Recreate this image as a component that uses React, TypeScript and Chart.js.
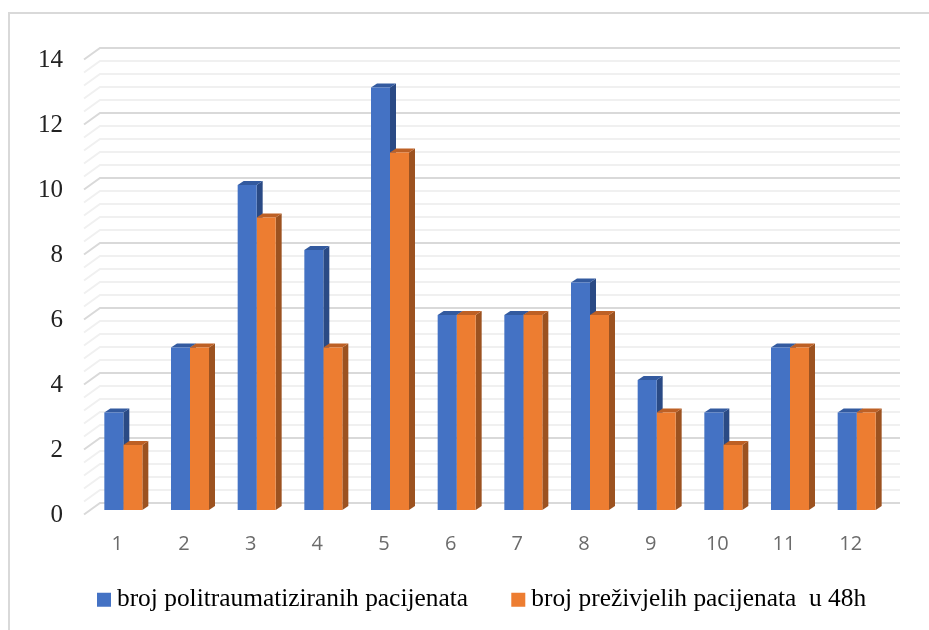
import React, { useEffect, useRef } from "react";
import { Chart, registerables } from "chart.js";

Chart.register(...registerables);

const categories = ["1", "2", "3", "4", "5", "6", "7", "8", "9", "10", "11", "12"];
const seriesA = [3, 5, 10, 8, 13, 6, 6, 7, 4, 3, 5, 3];
const seriesB = [2, 5, 9, 5, 11, 6, 6, 6, 3, 2, 5, 3];
const seriesNames = ["broj politraumatiziranih pacijenata", "broj preživjelih pacijenata  u 48h"];
const colors = ["#4472c4", "#ed7d31"];
const sideColors = ["#2a4a85", "#9c5220"];
const topColors = ["#335a9f", "#bd6025"];
const gridValues = [0, 0.4, 0.8, 1.2, 1.6, 2, 2.4, 2.8, 3.2, 3.6, 4, 4.4, 4.8, 5.2, 5.6, 6, 6.4, 6.8, 7.2, 7.6, 8, 8.4, 8.8, 9.2, 9.6, 10, 10.4, 10.8, 11.2, 11.6, 12, 12.4, 12.8, 13.2, 13.6, 14];

const depth3d = {
  id: "depth3d",
  beforeLayout(chart: any) {
    const lg = chart.legend;
    if (!lg.__wrapped) {
      const fit = lg.fit;
      lg.fit = function () {
        fit.call(this);
        this.height = 60;
      };
      lg.__wrapped = true;
    }
  },
  afterLayout(chart: any) {
    const lg = chart.legend;
    const pad = lg.options.labels.padding;
    lg.left = 103.75 - pad;
    lg.right = 929;
    lg.width = lg.right - lg.left;
    lg.top = 537;
    lg.height = 93;
    lg.bottom = 630;
  },
  beforeDatasetsDraw(chart: any) {
    const { ctx, scales } = chart;
    const y = scales.y;
    ctx.save();
    ctx.lineCap = "butt";
    gridValues.forEach((v) => {
      const major = Math.abs(v / 2 - Math.round(v / 2)) < 1e-6;
      const py = y.getPixelForValue(v);
      ctx.strokeStyle = major ? "#d9d9d9" : "#f0f0f0";
      ctx.lineWidth = 2;
      ctx.beginPath();
      ctx.moveTo(84, py + 4.5);
      ctx.lineTo(100, py - 7);
      ctx.lineTo(900, py - 7);
      ctx.stroke();
    });
    const dx = 6;
    const dy = 4;
    [0, 1].forEach((di) => {
      chart.getDatasetMeta(di).data.forEach((el: any) => {
        const { x, y: top, base, width } = el.getProps(["x", "y", "base", "width"], true);
        const l = x - width / 2;
        const r = x + width / 2;
        ctx.fillStyle = sideColors[di];
        ctx.beginPath();
        ctx.moveTo(r, top);
        ctx.lineTo(r + dx, top - dy);
        ctx.lineTo(r + dx, base - dy);
        ctx.lineTo(r, base);
        ctx.closePath();
        ctx.fill();
        ctx.fillStyle = topColors[di];
        ctx.beginPath();
        ctx.moveTo(l, top);
        ctx.lineTo(l + dx, top - dy);
        ctx.lineTo(r + dx, top - dy);
        ctx.lineTo(r, top);
        ctx.closePath();
        ctx.fill();
      });
    });
    ctx.restore();
  },
};

export default function App() {
  const ref = useRef<HTMLCanvasElement>(null);
  useEffect(() => {
    const chart = new Chart(ref.current!, {
      type: "bar",
      data: {
        labels: categories,
        datasets: [
          { label: seriesNames[0], data: seriesA, backgroundColor: colors[0], categoryPercentage: 0.57, barPercentage: 1 },
          { label: seriesNames[1], data: seriesB, backgroundColor: colors[1], categoryPercentage: 0.57, barPercentage: 1 },
        ],
      },
      plugins: [depth3d],
      options: {
        responsive: false,
        animation: false,
        layout: { padding: { left: 0, right: 39, top: 55, bottom: 0 } },
        scales: {
          x: {
            grid: { display: false },
            border: { display: false },
            ticks: {
              labelOffset: -6,
              padding: 14,
              maxRotation: 0,
              color: "#6b6b6b",
              font: { family: "'Open Sans'", size: 20 },
            },
            afterFit(s: any) {
              s.height = 60;
            },
          },
          y: {
            min: 0,
            max: 14,
            grid: { display: false },
            border: { display: false },
            ticks: {
              stepSize: 2,
              padding: 27,
              labelOffset: 5,
              color: "#222222",
              font: { family: "'Liberation Serif'", size: 25 },
              z: 1,
            },
            afterFit(s: any) {
              s.width = 90;
            },
            afterUpdate(s: any) {
              s.options.ticks.padding = 19;
            },
          },
        },
        plugins: {
          tooltip: { enabled: false },
          legend: {
            position: "bottom",
            align: "start",
            labels: {
              boxWidth: 0.5,
              boxHeight: 0.5,
              padding: 50,
              color: "#222222",
              font: { family: "'Liberation Serif'", size: 25.4 },
              generateLabels: () =>
                seriesNames.map((text, i) => ({
                  text,
                  fillStyle: colors[i],
                  strokeStyle: colors[i],
                  lineWidth: 13.5,
                  datasetIndex: i,
                })),
            },
          },
        },
      },
    } as any);
    return () => chart.destroy();
  }, []);
  return (
    <div style={{ position: "fixed", left: 0, top: 0, width: 929, height: 630, overflow: "hidden", background: "#fff" }}>
      <div
        style={{
          position: "absolute",
          left: 8,
          top: 12,
          width: 960,
          height: 700,
          border: "2px solid #d9d9d9",
          boxSizing: "border-box",
        }}
      />
      <canvas ref={ref} width={929} height={630} style={{ position: "absolute", left: 0, top: 0 }} />
    </div>
  );
}
